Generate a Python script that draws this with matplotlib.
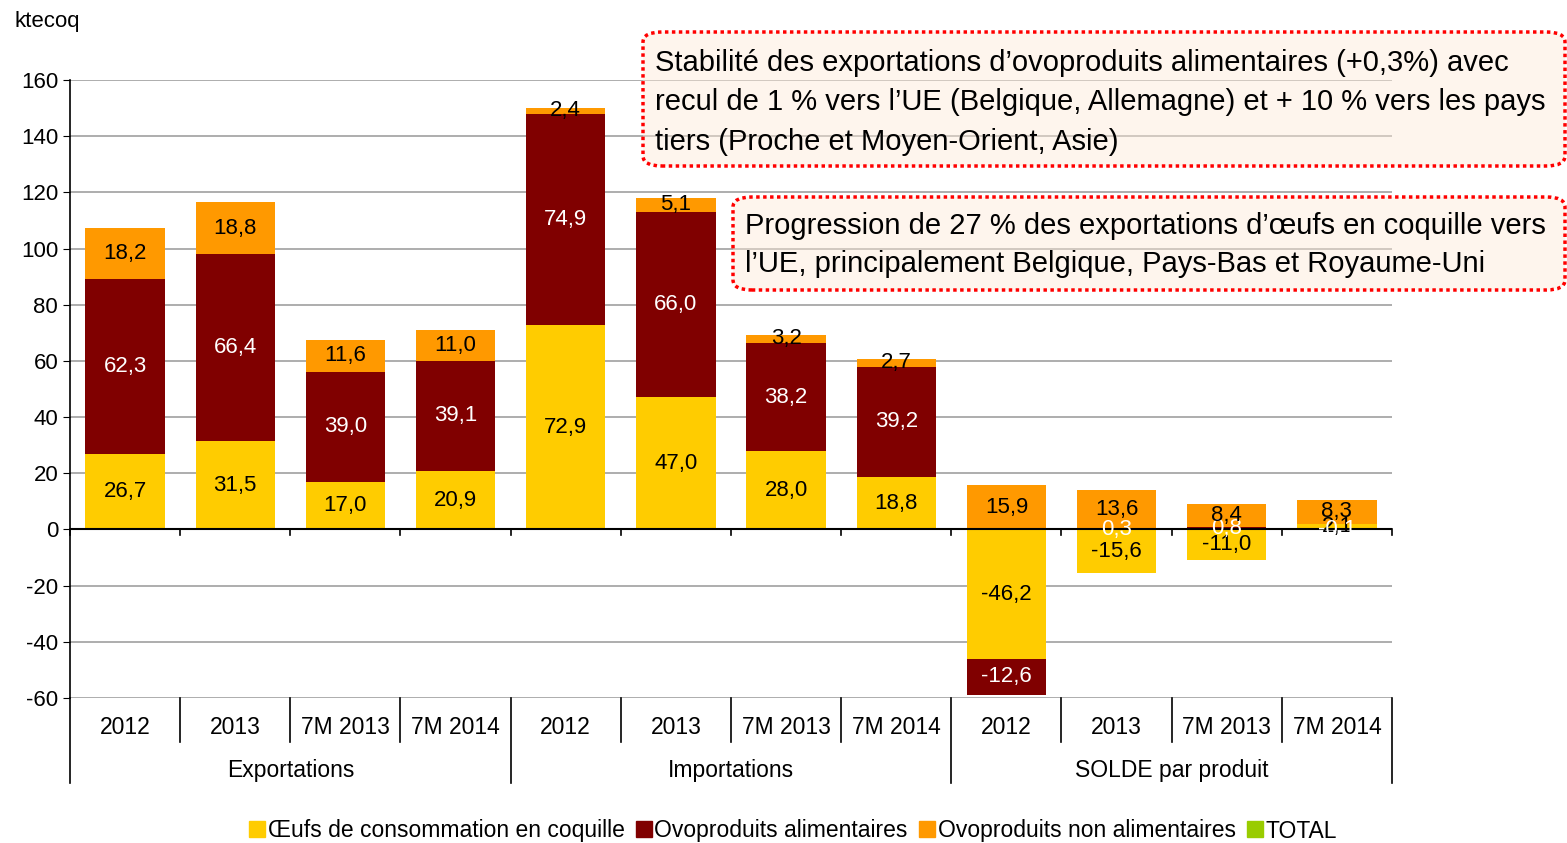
import matplotlib.pyplot as plt
from matplotlib.lines import Line2D
from matplotlib.patches import FancyBboxPatch

plt.rcParams['font.family'] = ['Liberation Sans', 'DejaVu Sans']

periods = ['2012', '2013', '7M 2013', '7M 2014'] * 3
groups = ['Exportations', 'Importations', 'SOLDE par produit']

oeufs = [26.7, 31.5, 17.0, 20.9, 72.9, 47.0, 28.0, 18.8, -46.2, -15.6, -11.0, 2.1]
ovo_alim = [62.3, 66.4, 39.0, 39.1, 74.9, 66.0, 38.2, 39.2, -12.6, 0.3, 0.8, -0.1]
ovo_non_alim = [18.2, 18.8, 11.6, 11.0, 2.4, 5.1, 3.2, 2.7, 15.9, 13.6, 8.4, 8.3]

series = [
    ('Œufs de consommation en coquille', oeufs, '#FFCC00', 'black'),
    ('Ovoproduits alimentaires', ovo_alim, '#800000', 'white'),
    ('Ovoproduits non alimentaires', ovo_non_alim, '#FF9900', 'black'),
]

fig = plt.figure(figsize=(15.67, 8.43), dpi=100)
ax = fig.add_axes([70 / 1567, 1 - 698 / 843, (1392 - 70) / 1567, 618 / 843])

n = len(periods)
x = list(range(n))
pos_base = [0.0] * n
neg_base = [0.0] * n
for name, vals, color, tcol in series:
    bottoms = []
    for i, v in enumerate(vals):
        if v >= 0:
            bottoms.append(pos_base[i])
            pos_base[i] += v
        else:
            bottoms.append(neg_base[i])
            neg_base[i] += v
    ax.bar(x, vals, bottom=bottoms, width=0.72, color=color, zorder=3)
    for i, v in enumerate(vals):
        ax.text(i, bottoms[i] + v / 2, f'{v:.1f}'.replace('.', ','), ha='center', va='center',
                fontsize=16, color=tcol, zorder=5)

ax.set_xlim(-0.5, n - 0.5)
ax.set_ylim(-60, 160)
ax.set_yticks(range(-60, 161, 20))
ax.set_yticklabels([str(v) for v in range(-60, 161, 20)])
ax.tick_params(axis='y', labelsize=16, length=5, direction='out')
ax.set_xticks([])
ax.yaxis.grid(True, color='#a0a0a0', linewidth=1.2, zorder=0)
ax.set_axisbelow(True)
for s in ['top', 'right', 'bottom']:
    ax.spines[s].set_visible(False)
ax.spines['left'].set_linewidth(1.2)

ax.axhline(0, color='black', linewidth=1.5, zorder=4)
for b in range(n + 1):
    ax.plot([b - 0.5, b - 0.5], [0, -2], color='black', linewidth=1.2, zorder=4, clip_on=False)

trans = ax.get_xaxis_transform()
for b in range(n + 1):
    yend = -0.138 if b % 4 == 0 else -0.071
    ax.add_line(Line2D([b - 0.5, b - 0.5], [0, yend], transform=trans, color='black',
                       linewidth=1.2, clip_on=False))
for i, p in enumerate(periods):
    ax.text(i, -0.048, p, transform=trans, ha='center', va='center', fontsize=16.5)
for g, name in enumerate(groups):
    ax.text(g * 4 + 1.5, -0.117, name, transform=trans, ha='center', va='center', fontsize=16.5)

fig.text(15 / 1567, 1 - 22 / 843, 'ktecoq', fontsize=16, ha='left', va='center')

# annotation boxes
def note(x0, y0, x1, y1, lines, ly):
    box = FancyBboxPatch((x0 / 1567, 1 - y1 / 843), (x1 - x0) / 1567, (y1 - y0) / 843,
                         boxstyle='round,pad=0,rounding_size=0.012', transform=fig.transFigure,
                         facecolor='#FDE9D9', alpha=0.45, edgecolor='none', zorder=6)
    fig.patches.append(box)
    edge = FancyBboxPatch((x0 / 1567, 1 - y1 / 843), (x1 - x0) / 1567, (y1 - y0) / 843,
                          boxstyle='round,pad=0,rounding_size=0.012', transform=fig.transFigure,
                          facecolor='none', edgecolor='#FF0000', linewidth=2.5,
                          linestyle=(0, (1, 1)), zorder=7)
    fig.patches.append(edge)
    for line, yy in zip(lines, ly):
        fig.text((x0 + 12) / 1567, 1 - yy / 843, line, fontsize=21, ha='left', va='center', zorder=8)

note(643, 32, 1565, 166,
     ['Stabilité des exportations d’ovoproduits alimentaires (+0,3%) avec',
      'recul de 1 % vers l’UE (Belgique, Allemagne) et + 10 % vers les pays',
      'tiers (Proche et Moyen-Orient, Asie)'], [63, 102, 142])
note(733, 197, 1565, 290,
     ['Progression de 27 % des exportations d’œufs en coquille vers',
      'l’UE, principalement Belgique, Pays-Bas et Royaume-Uni'], [226, 264])

handles = [Line2D([], [], marker='s', linestyle='none', markersize=12, color=c) for _, _, c, _ in series]
handles.append(Line2D([], [], marker='s', linestyle='none', markersize=12, color='#99CC00'))
labels = [s[0] for s in series] + ['TOTAL']
fig.legend(handles, labels, loc='center', bbox_to_anchor=(792 / 1567, 1 - 831 / 843), ncol=4,
           frameon=False, fontsize=16.5, handletextpad=0.0, columnspacing=0.4, handlelength=0.9)

fig.savefig('out.png', dpi=100)
